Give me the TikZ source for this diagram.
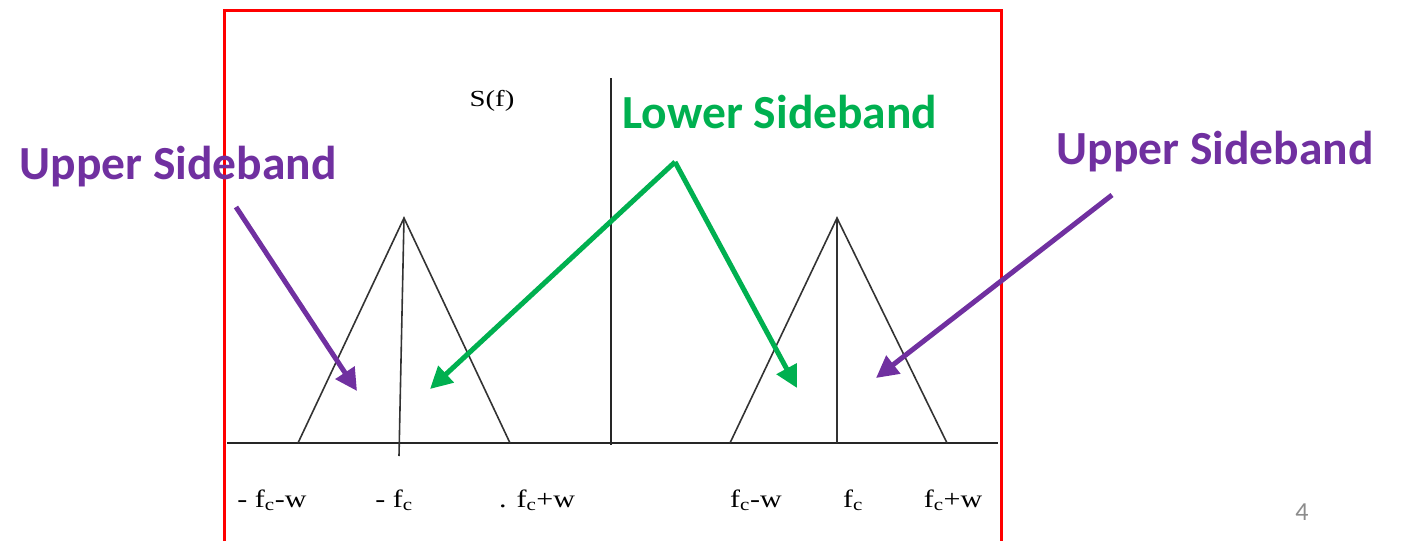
\documentclass[tikz,border=0pt]{standalone}
\usepackage{fontspec}
\setmainfont{Liberation Serif}
\newfontfamily\calib{Carlito}
\usetikzlibrary{arrows.meta}
\definecolor{myred}{HTML}{FF0000}
\definecolor{mypurple}{HTML}{7030A0}
\definecolor{mygreen}{HTML}{00B050}
\definecolor{pnum}{HTML}{8C8C8C}
\tikzset{
  frame/.style={draw=myred,line width=3pt},
  axisline/.style={draw=black!85,line width=1.6pt},
  tri/.style={draw=black!80,line width=1.6pt,line join=miter},
  bigarrow/.style={line width=5pt,-{Triangle[length=22pt,width=22pt]}},
  sideband/.style={font=\calib\bfseries\fontsize{47.5}{50}\selectfont,inner sep=0pt},
  axlabel/.style={font=\fontsize{25}{27}\selectfont,inner sep=0pt,anchor=base},
}
\newcommand{\stretchx}[1]{\scalebox{1.2}[1]{#1}}
\begin{document}
\begin{tikzpicture}[x=1pt,y=-1pt]
\useasboundingbox (0,0) rectangle (1402,541);
% red frame
\draw[frame] (224,541) -- (224,10) -- (1001,10) -- (1001,541);
% axes
\coordinate (axL) at (227,443);
\coordinate (axR) at (998,443);
\coordinate (vT) at (611,78);
\coordinate (vB) at (611,445);
\draw[axisline] (axL) -- (axR);
\draw[axisline] (vT) -- (vB);
% left triangle
\coordinate (lA) at (404,218);
\coordinate (lL) at (298,443);
\coordinate (lR) at (510,443);
\coordinate (lB) at (399,456);
\draw[tri] (lL) -- (lA) -- (lR);
\draw[tri] (lA) -- (lB);
% right triangle
\coordinate (rA) at (837,218);
\coordinate (rL) at (730,443);
\coordinate (rR) at (947,443);
\coordinate (rB) at (837,443);
\draw[tri] (rL) -- (rA) -- (rR);
\draw[tri] (rA) -- (rB);
% labels
\node[inner sep=0pt,font=\fontsize{23}{25}\selectfont] (sf) at (492,101) {\scalebox{1.25}[1]{S(f)}};
\node[axlabel] (l1) at (272,507) {\stretchx{- f\textsubscript{c}-w}};
\node[axlabel] (l2) at (394,507) {\stretchx{- f\textsubscript{c}}};
\node[axlabel] (l3) at (537,507) {\stretchx{. f\textsubscript{c}+w}};
\node[axlabel] (r1) at (756,507) {\stretchx{f\textsubscript{c}-w}};
\node[axlabel] (r2) at (853,507) {\stretchx{f\textsubscript{c}}};
\node[axlabel] (r3) at (953,507) {\stretchx{f\textsubscript{c}+w}};
% sideband texts
\node[sideband,text=mypurple] (usbL) at (178,167) {Upper Sideband};
\node[sideband,text=mygreen] (lsb) at (780,112) {Lower Sideband};
\node[sideband,text=mypurple] (usbR) at (1215,152) {Upper Sideband};
% arrows
\coordinate (pl0) at (236,207);
\coordinate (pl1) at (357,391);
\coordinate (g0) at (675,162);
\coordinate (gl1) at (430,389);
\coordinate (gr1) at (797,388);
\coordinate (pr0) at (1112,195);
\coordinate (pr1) at (876,378);
\draw[bigarrow,mypurple] (pl0) -- (pl1);
\draw[bigarrow,mygreen] (g0) -- (gl1);
\draw[bigarrow,mygreen] (g0) -- (gr1);
\draw[bigarrow,mypurple] (pr0) -- (pr1);
% page number
\node[inner sep=0pt,text=pnum,font=\calib\fontsize{26}{28}\selectfont] (pg) at (1302,512) {4};
\end{tikzpicture}
\end{document}
